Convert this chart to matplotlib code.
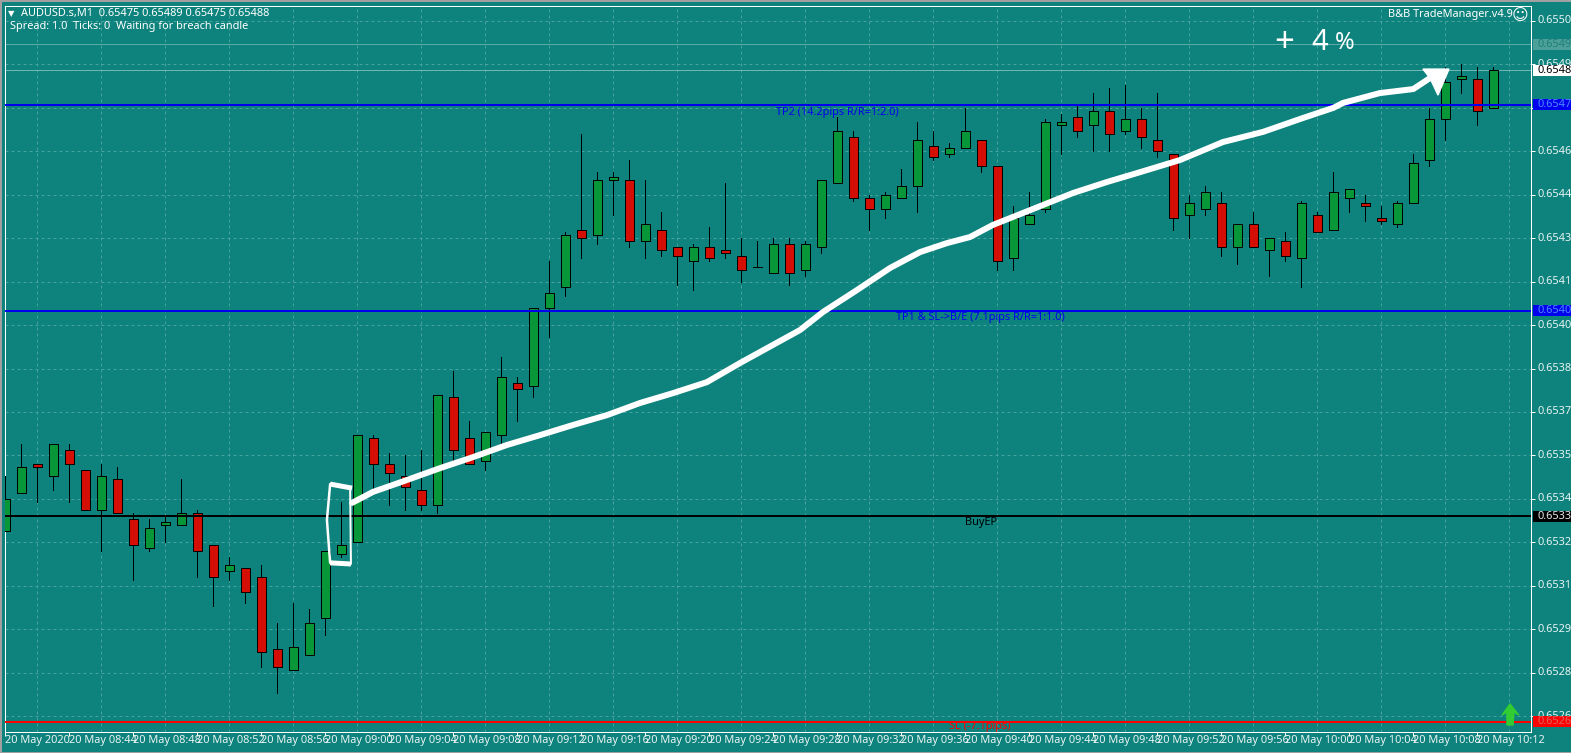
import matplotlib
matplotlib.use("Agg")
import matplotlib.pyplot as plt
from matplotlib.patches import Rectangle
import numpy as np

W, H = 1571, 753
BG = "#0E827C"
GRID = "#47A39D"
UP = "#079739"
DOWN = "#D20F02"
plt.rcParams['font.family'] = ['Noto Sans', 'DejaVu Sans']

# Prices as points above 0.65000 (1 = 0.00001)
opens = [329,342,352,348,357,350,336,347,333,323,331,331,335,324,315,316,313,288,281,286,
         299,321,325,361,352,348,343,338,375,361,353,362,380,379,406,413,433,431,450,450,
         429,433,427,422,427,426,424,420,418,428,419,427,449,465,444,440,444,448,462,459,
         461,464,455,423,435,440,469,472,469,474,467,471,464,459,438,440,442,427,435,426,
         429,423,438,433,444,442,437,435,442,457,471,485,485,475]
highs = [348,359,352,359,359,350,352,351,335,333,334,347,336,324,320,316,317,297,304,302,
         322,339,362,362,356,355,357,376,384,367,363,389,382,406,422,432,466,453,453,457,
         450,439,427,428,434,449,430,429,430,430,429,450,472,467,445,446,454,470,467,463,
         475,464,455,441,446,471,473,476,480,482,483,475,480,459,445,448,446,435,439,430,
         432,443,439,453,447,445,441,443,459,475,489,490,489,489]
lows =  [329,342,339,343,339,336,322,335,312,322,325,331,313,303,312,304,282,273,281,286,
         293,320,325,343,338,336,336,335,353,352,350,359,367,375,396,410,423,428,438,427,
         423,424,414,412,422,423,415,420,418,414,417,425,449,443,433,437,444,439,457,458,
         461,453,419,419,435,439,459,465,460,460,466,461,458,433,430,438,424,421,427,417,
         422,413,432,433,439,436,435,434,442,455,464,480,469,475]
closes= [340,351,351,359,352,336,348,335,324,330,332,335,322,313,317,308,287,282,289,297,
         322,324,362,352,349,344,338,376,357,352,363,382,378,406,411,431,430,450,451,429,
         435,426,424,427,423,425,419,420,428,418,428,450,467,444,440,445,448,464,458,461,
         467,455,422,437,438,470,470,467,474,466,471,465,460,437,442,446,427,435,427,430,
         424,442,432,446,447,441,436,442,456,471,484,486,474,488]

price_ticks = [505,490,475,460,445,430,415,400,385,370,355,340,325,310,295,280,265]
time_labels = ["20 May 2020","20 May 08:44","20 May 08:48","20 May 08:52","20 May 08:56",
               "20 May 09:00","20 May 09:04","20 May 09:08","20 May 09:12","20 May 09:16",
               "20 May 09:20","20 May 09:24","20 May 09:28","20 May 09:32","20 May 09:36",
               "20 May 09:40","20 May 09:44","20 May 09:48","20 May 09:52","20 May 09:56",
               "20 May 10:00","20 May 10:04","20 May 10:08","20 May 10:12"]
tp2, tp1, entry, stop = 476, 405, 334, 263
ask_line, bid_line = 497, 488

# Hand-drawn annotation, in (candle index, points)
stroke_x = [21.67,22.98,25.1,27.17,29.23,31.35,33.42,35.48,37.6,39.67,41.73,43.85,45.92,49.67,51.1,
            53.23,55.29,57.17,58.85,60.29,61.73,63.6,66.73,68.85,70.92,73.42,76.1,78.6,81.1,83,
            83.6,85.9,88,89.04]
stroke_y = [338.6,342.4,346.5,350.6,354.4,358.6,362,365.5,368.9,373.1,376.5,380.3,386.9,398.3,404.5,
            412.1,419.7,425.2,428.3,430.4,434.6,438.7,445.6,449.4,452.8,457,463.2,466.7,471.5,475,
            476.7,480.1,481.5,485.3]
head_x = [88.6,90.23,89.54,89.04]
head_y = [488.4,488.4,479.4,485.3]
box_top_x, box_top_y = [21.67,20.3], [343.7,345.1]
box_left_x, box_left_y = [20.3,20.1,20.3], [345.1,332.7,317.9]
box_bot_x, box_bot_y = [20.3,21.6], [317.9,317.5]
box_right_x, box_right_y = [21.6,21.55], [317.5,343.7]
up_x = [94.04,94.6,94.29,94.23,93.85,93.85,93.54]
up_y = [269.2,265.3,266.4,261.9,261.9,266.4,265.3]

def px(v):
    return v * 0.72  # pixels to points at dpi 100

fig = plt.figure(figsize=(W/100, H/100), dpi=100, facecolor=BG)
L, R, T, B = 5, 1531.5, 5.5, 731.5
ax = fig.add_axes([L/W, 1-B/H, (R-L)/W, (B-T)/H], facecolor=BG)

def xd(p):
    return (p-5.33)/16
def yd(p):
    return 512.25-0.3453*p
ax.set_xlim(xd(L), xd(R))
ax.set_ylim(yd(B), yd(T))

# grid
ax.set_xticks(np.arange(0, 96, 2), minor=True)
ax.set_yticks(price_ticks)
ax.grid(True, which='minor', axis='x', color=GRID, lw=px(1), ls=(0, (3, 3)), zorder=1)
ax.grid(True, which='major', axis='y', color=GRID, lw=px(1), ls=(0, (3, 3)), zorder=1)
ax.set_axisbelow(True)

# candles
n = len(opens)
idx = np.arange(n)
o, h, l, c = map(np.array, (opens, highs, lows, closes))
ax.vlines(idx, l, h, color='black', lw=px(1), zorder=3, antialiased=False)
cols = [UP if a >= b else DOWN for a, b in zip(c, o)]
ax.bar(idx, np.abs(c-o), bottom=np.minimum(o, c), width=0.58, color=cols, edgecolor='black',
       linewidth=px(1), zorder=4, antialiased=False)

# levels
ax.axhline(ask_line, color="#5BAAA5", lw=px(1), zorder=2)
ax.axhline(bid_line, color="#6FB5B0", lw=px(1), zorder=2)
ax.axhline(tp2, color="#0000EE", lw=px(2), zorder=5)
ax.axhline(tp1, color="#0000EE", lw=px(2), zorder=5)
ax.axhline(entry, color="black", lw=px(2), zorder=5)
ax.axhline(stop, color="#FF0000", lw=px(2), zorder=5)

# hand-drawn marks
ax.plot(stroke_x, stroke_y, color='white', lw=px(6), solid_capstyle='round', solid_joinstyle='round', zorder=7)
ax.fill(head_x, head_y, color='white', zorder=7)
ax.plot(box_top_x, box_top_y, color='white', lw=px(5), solid_capstyle='butt', zorder=7)
ax.plot(box_left_x, box_left_y, color='white', lw=px(2.5), solid_capstyle='round', zorder=7)
ax.plot(box_bot_x, box_bot_y, color='white', lw=px(5), solid_capstyle='butt', zorder=7)
ax.plot(box_right_x, box_right_y, color='white', lw=px(2), solid_capstyle='round', zorder=7)
ax.fill(up_x, up_y, color="#32CD32", zorder=8)

# axes frame and ticks
for s in ax.spines.values():
    s.set_color('white'); s.set_linewidth(px(1))
FS = 7.9
ax.set_xticks(np.arange(0, 93, 4))
ax.set_xticklabels([])
ax.tick_params(axis='x', which='major', length=px(4), width=px(1), color='white', direction='out', bottom=True)
ax.tick_params(axis='x', which='minor', length=0)
ax.tick_params(axis='y', length=px(4), width=px(1), color='white', direction='out', left=False, right=True,
               labelleft=False, labelright=False)

# text helpers use pixel coordinates of the window
def T_(x, y, s, **k):
    k.setdefault('fontsize', FS); k.setdefault('color', 'white'); k.setdefault('va', 'center'); k.setdefault('ha', 'left')
    return fig.text(x/W, 1-y/H, s, **k)

for i, lab in zip(np.arange(0, 93, 4), time_labels):
    px_x = 5.33+16*i
    T_(px_x-0.5 if i == 0 else px_x-0.5, 740.5, lab, color="#E8F4F3")

for t in price_ticks:
    T_(1537, yd_inv if False else (512.25-t)/0.3453, f"0.65{t:03d}", color="#E8F4F3")

def tag(level, face, txt, alpha=1.0):
    y = (512.25-level)/0.3453
    fig.add_artist(Rectangle((1532.5/W, 1-(y+5.5)/H), 38.5/W, 11/H, transform=fig.transFigure,
                             facecolor=face, edgecolor='none', zorder=10))
    T_(1537, y, f"0.65{level:03d}", color=txt, zorder=11)

tag(ask_line, "#4D9F9A", "#1F7F79")
tag(bid_line, "#FFFFFF", "#000000")
tag(tp2, "#0000EE", "#4C8CFF")
tag(tp1, "#0000EE", "#4C8CFF")
tag(entry, "#000000", "#E8E8E8")
tag(stop, "#FF0000", "#E06060")

# header
T_(21, 13.5, "AUDUSD.s,M1  0.65475 0.65489 0.65475 0.65488")
T_(9.5, 27, "Spread: 1.0  Ticks: 0  Waiting for breach candle")
T_(11, 14, "▼", fontsize=6, ha='center', family='DejaVu Sans')
T_(1513, 15, "B&B TradeManager.v4.9", ha='right')
T_(1520, 15, "☺", fontsize=11.5, ha='center', family='DejaVu Sans')

# line labels
T_(837, 112, "TP2 (14.2pips R/R=1:2.0)", color="#0000EE", ha='center')
T_(980, 317, "TP1 & SL->B/E (7.1pips R/R=1:1.0)", color="#0000EE", ha='center')
T_(981, 522, "BuyEP", color="black", ha='center')
T_(980, 726, "SL (-7.1pips)", color="#FF0000", ha='center')

# hand-written gain
T_(1284, 43, "+", fontsize=25, fontweight='bold', ha='center', zorder=12)
T_(1320, 43, "4", fontsize=21, fontweight='bold', ha='center', zorder=12)
T_(1345, 43, "%", fontsize=17, fontweight='bold', ha='center', zorder=12)

# window edge
fig.add_artist(Rectangle((0, 1-2/H), 1, 2/H, transform=fig.transFigure, facecolor="#A0A0A0", edgecolor='none'))
fig.add_artist(Rectangle((0, 0), 1.5/W, 1, transform=fig.transFigure, facecolor="#A0A0A0", edgecolor='none'))
fig.add_artist(Rectangle((0, 0), 1, 1.5/H, transform=fig.transFigure, facecolor="#A0A0A0", edgecolor='none'))

fig.savefig("out.png", dpi=100, facecolor=BG)
